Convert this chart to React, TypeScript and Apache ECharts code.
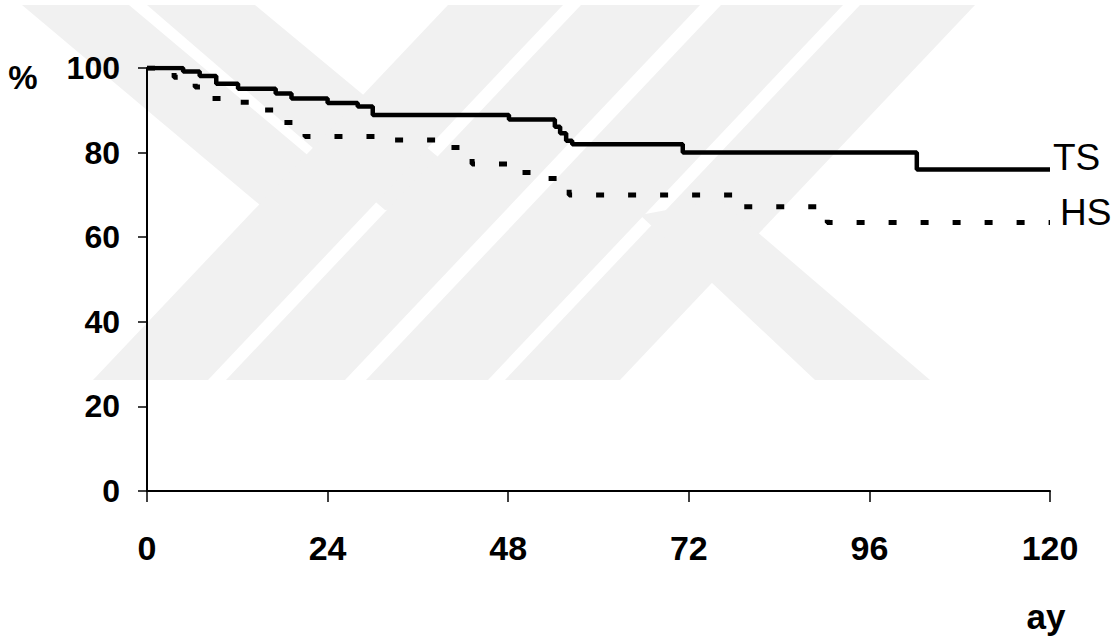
import React, { useEffect, useRef } from "react";
import * as echarts from "echarts";

// Kaplan-Meier style survival curves (months vs %)
const tsMonths = [0, 4.8, 7.0, 9.2, 12.1, 17.1, 19.2, 24.0, 28.0, 30.0, 48.1, 54.2, 54.9, 55.7, 56.5, 71.2, 102.3, 120];
const tsValues = [100, 99.2, 98.1, 96.3, 95.1, 94.0, 92.8, 91.7, 90.9, 88.9, 87.8, 86.1, 84.6, 82.8, 82.0, 80.0, 76.0, 76.0];

const hsMonths = [0, 3.6, 6.4, 7.8, 11.3, 14.5, 17.0, 21.0, 31.5, 39.0, 43.2, 48.5, 52.0, 56.1, 78.4, 90.4, 120];
const hsValues = [100, 97.8, 95.5, 92.8, 91.9, 90.1, 87.1, 83.8, 83.0, 81.2, 77.3, 75.3, 73.9, 70.0, 67.2, 63.5, 63.5];

const seriesNames = ["TS", "HS"];
const xTicks = { min: 0, max: 120, interval: 24 };
const yTicks = { min: 0, max: 100, interval: 20 };
const yUnit = "%";
const xUnit = "ay";

const FONT = "Arial, 'Liberation Sans', sans-serif";
const WM = "#f1f1f1";

export default function App() {
  const ref = useRef<HTMLDivElement>(null);
  useEffect(() => {
    if (!ref.current) return;
    const chart = echarts.init(ref.current, undefined, { renderer: "svg" });
    const zip = (a: number[], b: number[]) => a.map((t, i) => [t, b[i]]);
    const wm = (pts: number[][]) => ({
      type: "polygon",
      silent: true,
      z: -10,
      shape: { points: pts },
      style: { fill: WM },
    });
    chart.setOption({
      animation: false,
      backgroundColor: "#ffffff",
      grid: { left: 147, right: 70, top: 68, bottom: 148, containLabel: false },
      xAxis: {
        type: "value",
        min: xTicks.min,
        max: xTicks.max,
        interval: xTicks.interval,
        axisLine: { show: true, lineStyle: { color: "#000", width: 2 } },
        axisTick: { show: true, length: 11, lineStyle: { color: "#000", width: 1.5 } },
        axisLabel: { margin: 40, fontSize: 34, fontWeight: "bold", color: "#000", fontFamily: FONT },
        splitLine: { show: false },
      },
      yAxis: {
        type: "value",
        min: yTicks.min,
        max: yTicks.max,
        interval: yTicks.interval,
        axisLine: { show: true, lineStyle: { color: "#000", width: 2 } },
        axisTick: { show: true, length: 9, lineStyle: { color: "#000", width: 1.5 } },
        axisLabel: { margin: 27, fontSize: 32, fontWeight: "bold", color: "#000", fontFamily: FONT },
        splitLine: { show: false },
      },
      graphic: [
        wm([[22, 5], [129, 5], [367, 205], [260, 205]]),
        wm([[147, 5], [255, 5], [490, 200], [385, 210]]),
        wm([[93, 380], [208, 380], [563, 5], [448, 5]]),
        wm([[226, 380], [345, 380], [700, 5], [581, 5]]),
        wm([[366, 380], [488, 380], [843, 5], [721, 5]]),
        wm([[505, 380], [620, 380], [975, 5], [860, 5]]),
        wm([[640, 215], [720, 200], [930, 380], [815, 380]]),
        {
          type: "text",
          x: 23,
          y: 77,
          style: {
            text: yUnit,
            font: `bold 33px ${FONT}`,
            fill: "#000",
            align: "center",
            verticalAlign: "middle",
          },
        },
        {
          type: "text",
          x: 1046,
          y: 616,
          style: {
            text: xUnit,
            font: `bold 35px ${FONT}`,
            fill: "#000",
            align: "center",
            verticalAlign: "middle",
          },
        },
      ],
      series: [
        {
          name: seriesNames[0],
          type: "line",
          step: "end",
          data: zip(tsMonths, tsValues),
          showSymbol: false,
          lineStyle: { color: "#000", width: 4.5, type: "solid" },
          endLabel: {
            show: true,
            formatter: "{a}",
            distance: 3,
            offset: [0, -12],
            fontSize: 37,
            color: "#000",
            fontFamily: FONT,
          },
        },
        {
          name: seriesNames[1],
          type: "line",
          step: "end",
          data: zip(hsMonths, hsValues),
          showSymbol: false,
          lineStyle: { color: "#000", width: 5, type: [8, 24], cap: "butt" },
          endLabel: {
            show: true,
            formatter: "{a}",
            distance: 3,
            offset: [7, -10],
            fontSize: 37,
            color: "#000",
            fontFamily: FONT,
          },
        },
      ],
    });
    return () => chart.dispose();
  }, []);
  return (
    <div
      ref={ref}
      style={{ position: "absolute", left: 0, top: 0, width: 1120, height: 639 }}
    />
  );
}
